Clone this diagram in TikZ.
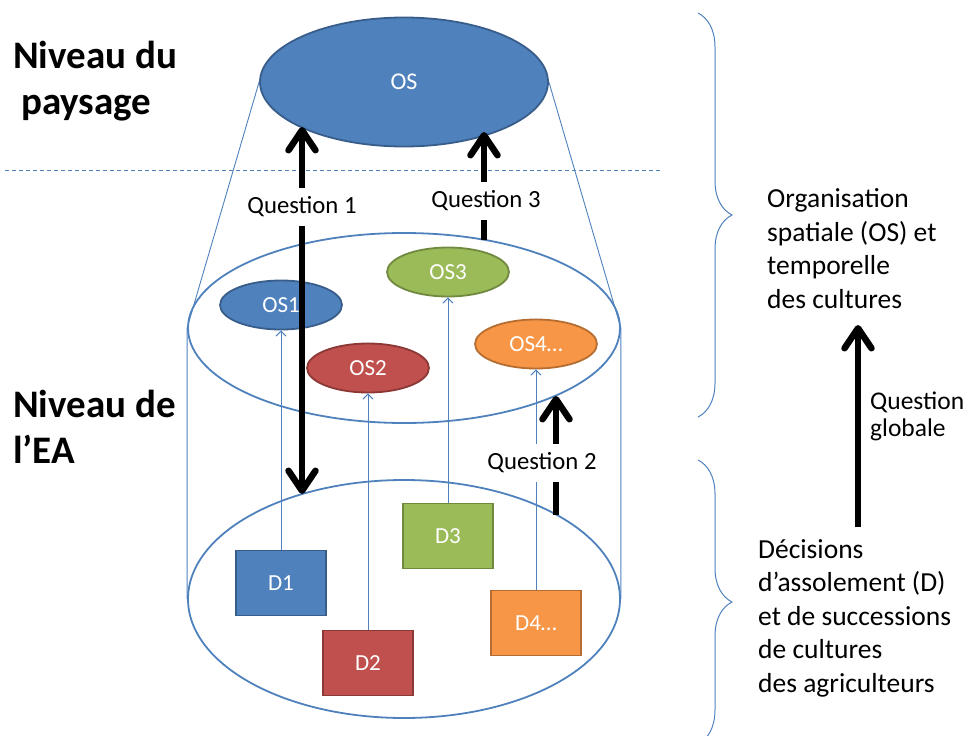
\documentclass[tikz,border=0pt]{standalone}
\usepackage{fontspec}
\setmainfont{Carlito}
\usetikzlibrary{arrows.meta,shapes.geometric,decorations.pathreplacing}
\definecolor{osblue}{HTML}{4F81BD}
\definecolor{osblueline}{HTML}{385D8A}
\definecolor{osred}{HTML}{C0504D}
\definecolor{osredline}{HTML}{8C3836}
\definecolor{osgreen}{HTML}{9BBB59}
\definecolor{osgreenline}{HTML}{71893F}
\definecolor{osorange}{HTML}{F79646}
\definecolor{osorangeline}{HTML}{B66D31}
\tikzset{parcel/.style={ellipse,minimum width=122pt,minimum height=49pt,inner sep=0pt,line width=1.8pt,text=white,font=\fontsize{23}{27}\selectfont},
		decision/.style={rectangle,minimum width=90pt,minimum height=65pt,inner sep=0pt,line width=1.8pt,text=white,font=\fontsize{23}{27}\selectfont},
		qtip/.tip={Straight Barb[length=20pt,width=27pt,round]},
		feed/.style={draw=osblue,line width=1pt,-{Straight Barb[length=5pt,width=10pt]}},
		qarrow/.style={line width=6.5pt}}

\begin{document}
\begin{tikzpicture}[x=1pt,y=-1pt,
		ring/.style={ellipse,draw=osblue,line width=1.8pt,minimum width=432pt,inner sep=0pt},
		wall/.style={draw=osblue,line width=0.9pt},
		qlabel/.style={fill=white,text height=16pt,text depth=4pt,inner xsep=2pt,inner ysep=9pt,anchor=base,font=\fontsize{24.7}{28}\selectfont},
		level/.style={align=left,anchor=base west,inner sep=0pt,font=\bfseries\fontsize{39}{46}\selectfont},
		sidetext/.style={align=left,anchor=base west,inner sep=0pt,font=\fontsize{27.5}{33.5}\selectfont},
		bracket/.style={draw=osblue,line width=1pt,decorate,decoration={brace,amplitude=34pt}}]
	\useasboundingbox (0,0) rectangle (964,736);

	\node[level] (niveau-paysage) at (13,114) {Niveau du\\\hspace*{8pt}paysage};
	\node[level] (niveau-ea) at (13,463) {Niveau de\\l’EA};
	\draw[osblue,line width=1pt,dash pattern=on 4pt off 3pt] (5,170) -- (660,170);

	\node[ring,minimum height=190pt] (ea-ring) at (404,328) {};
	\node[ring,minimum height=238pt] (farm-ring) at (404,599) {};
	\node[ellipse,draw=osblueline,fill=osblue,line width=1.8pt,minimum width=288pt,minimum height=129pt,inner sep=0pt,text=white,font=\fontsize{24}{28}\selectfont] (os-paysage) at (404,82) {OS};
	\draw[wall] (os-paysage.west) -- (ea-ring.west) -- (farm-ring.west);
	\draw[wall] (os-paysage.east) -- (ea-ring.east) -- (farm-ring.east);

	\node[parcel,fill=osblue,draw=osblueline] (os-1) at (281,305) {OS1};
	\node[parcel,fill=osred,draw=osredline] (os-2) at (368,368) {OS2};
	\node[parcel,fill=osgreen,draw=osgreenline] (os-3) at (448,272) {OS3};
	\node[parcel,fill=osorange,draw=osorangeline] (os-4) at (536,344) {OS4…};

	\node[decision,fill=osblue,draw=osblueline] (d-1) at (281,583) {D1};
	\node[decision,fill=osred,draw=osredline] (d-2) at (368,663) {D2};
	\node[decision,fill=osgreen,draw=osgreenline] (d-3) at (448,536) {D3};
	\node[decision,fill=osorange,draw=osorangeline] (d-4) at (536,623) {D4…};

	\draw[feed] (d-1.north) -- (os-1.south);
	\draw[feed] (d-2.north) -- (os-2.south);
	\draw[feed] (d-3.north) -- (os-3.south);
	\draw[feed] (d-4.north) -- (os-4.south);

	% questions
	\coordinate (q1-bottom) at (302,494);
	\coordinate (q1-top) at (302,127);
	\coordinate (q3-bottom) at (484,240);
	\coordinate (q3-top) at (484,132);
	\coordinate (q2-bottom) at (556,515);
	\coordinate (q2-top) at (556,396);
	\draw[qarrow,qtip-qtip] (q1-bottom) -- (q1-top);
	\draw[qarrow,-qtip] (q3-bottom) -- (q3-top);
	\draw[qarrow,-qtip] (q2-bottom) -- (q2-top);
	\node[qlabel] (q1-label) at (302,213) {Question 1};
	\node[qlabel] (q3-label) at (486,207) {Question 3};
	\node[qlabel] (q2-label) at (542,469) {Question 2};

	\draw[bracket] (698,13) -- (698,417);
	\draw[bracket] (698,460) -- (698,744);
	\node[sidetext] (os-text) at (767,308) {Organisation\\spatiale (OS) et\\temporelle\\des cultures};
	\node[sidetext] (d-text) at (758,692) {Décisions\\d’assolement (D)\\et de successions\\de cultures\\des agriculteurs};
	\coordinate (global-bottom) at (858,527);
	\coordinate (global-top) at (858,325);
	\draw[qarrow,-qtip] (global-bottom) -- (global-top);
	\node[sidetext,font=\fontsize{25.5}{27}\selectfont] (global-label) at (870,436) {Question\\globale};
\end{tikzpicture}
\end{document}
